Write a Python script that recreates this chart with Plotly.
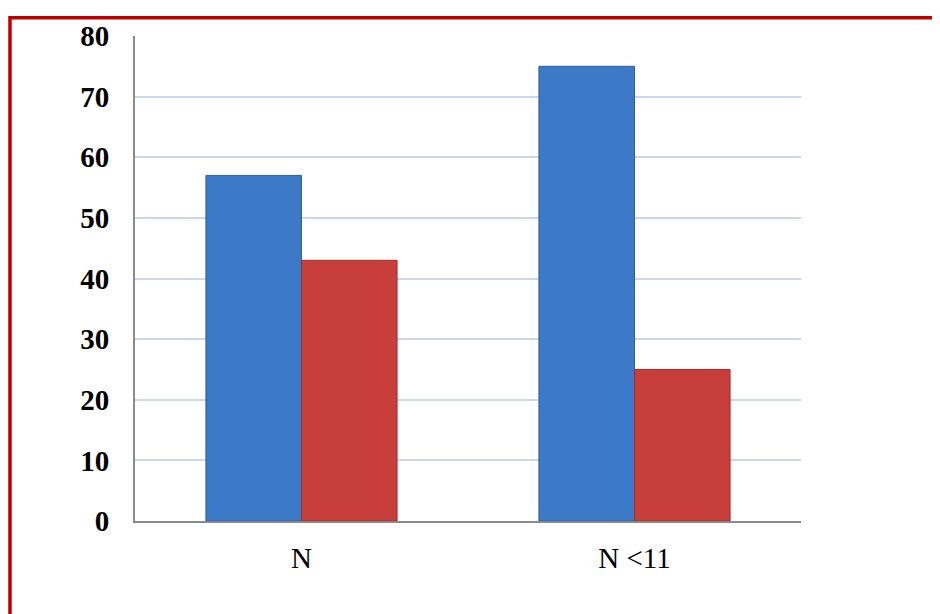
import plotly.graph_objects as go

# data
categories = ["N", "N <11"]
blue_vals = [57, 75]
red_vals = [43, 25]
y_ticks = [0, 10, 20, 30, 40, 50, 60, 70, 80]

blue = "#3C79C6"
red = "#C83E3A"

fig = go.Figure()
fig.add_trace(go.Bar(x=categories, y=blue_vals, name="blue",
                     marker=dict(color=blue, line=dict(color="#2E5F9E", width=1))))
fig.add_trace(go.Bar(x=categories, y=red_vals, name="red",
                     marker=dict(color=red, line=dict(color="#9A2F2B", width=1))))

# red frame (left + top edges, runs off the page on right/bottom)
# page body has an 8px margin, so the figure is shifted a bit
fig.add_shape(type="rect", xref="paper", yref="paper",
              x0=-0.1877, x1=1.4, y0=-0.4, y1=1.0378,
              line=dict(color="#C00000", width=3.5), layer="above")

fig.update_layout(
    width=940, height=606,
    margin=dict(l=127, r=147, t=24, b=93),
    paper_bgcolor="white", plot_bgcolor="white",
    barmode="group", bargap=0.426, bargroupgap=0,
    showlegend=False,
    font=dict(family="Liberation Serif, Times New Roman, serif", color="black"),
)
fig.update_yaxes(
    range=[0, 80], tickvals=y_ticks,
    showgrid=True, gridcolor="#C9D8EE", gridwidth=1.5,
    showline=True, linecolor="#8A8A8A", linewidth=2,
    zeroline=False, ticks="", ticklabelstandoff=18,
    tickfont=dict(size=29, family="Liberation Serif", color="black", weight="bold"),
)
fig.update_xaxes(
    showline=True, linecolor="#8A8A8A", linewidth=2,
    ticks="", ticklabelstandoff=10,
    tickfont=dict(size=29, family="Liberation Serif", color="black"),
)

fig.write_html("out.html")
